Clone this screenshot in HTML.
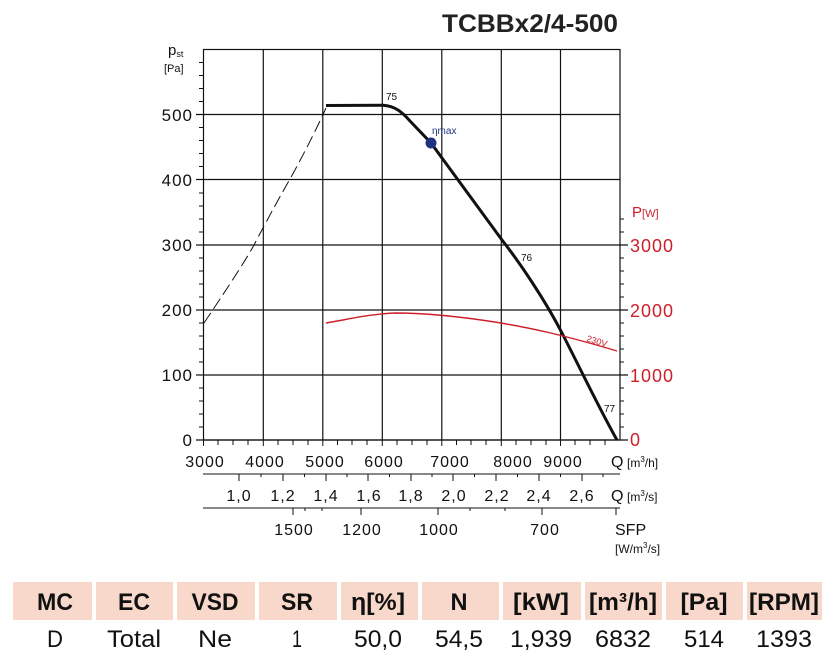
<!DOCTYPE html>
<html><head><meta charset="utf-8"><style>
html,body{margin:0;padding:0;background:#fff;}
svg{display:block;font-family:"Liberation Sans",sans-serif;}
</style></head><body>
<svg width="831" height="659" viewBox="0 0 831 659" xmlns="http://www.w3.org/2000/svg">
<text x="442" y="32" font-size="25" font-weight="bold" fill="#222" textLength="176" lengthAdjust="spacingAndGlyphs">TCBBx2/4-500</text>
<g stroke="#111" stroke-width="1.2" fill="none">
<rect x="203.5" y="49.5" width="416.5" height="390.5"/>
<line x1="263.3" y1="49" x2="263.3" y2="440"/>
<line x1="322.8" y1="49" x2="322.8" y2="440"/>
<line x1="382.3" y1="49" x2="382.3" y2="440"/>
<line x1="441.8" y1="49" x2="441.8" y2="440"/>
<line x1="501.3" y1="49" x2="501.3" y2="440"/>
<line x1="560.5" y1="49" x2="560.5" y2="440"/>
<line x1="203" y1="375" x2="628" y2="375"/>
<line x1="203" y1="310" x2="628" y2="310"/>
<line x1="203" y1="245" x2="628" y2="245"/>
<line x1="196" y1="179.5" x2="620" y2="179.5"/>
<line x1="196" y1="114.5" x2="620" y2="114.5"/>
<line x1="196" y1="440" x2="628" y2="440"/>
<line x1="196" y1="375" x2="203" y2="375"/>
<line x1="196" y1="310" x2="203" y2="310"/>
<line x1="196" y1="245" x2="203" y2="245"/>
</g>
<g stroke="#111" stroke-width="1">
<path d="M199 427H203M199 414H203M199 401H203M199 388H203M199 362H203M199 349H203M199 336H203M199 323H203M199 297H203M199 284H203M199 271H203M199 258H203M199 232H203M199 219H203M199 206H203M199 193H203M199 166.5H203M199 153.5H203M199 140.5H203M199 127.5H203M199 101.5H203M199 88.5H203M199 75.5H203M199 62.5H203"/>
<path d="M620 427H624M620 414H624M620 401H624M620 388H624M620 362H624M620 349H624M620 336H624M620 323H624M620 297H624M620 284H624M620 271H624M620 258H624M620 232H624M620 219H624"/>
<path d="M218 440V445M233 440V445M248 440V445M278 440V445M293 440V445M308 440V445M337.5 440V445M352 440V445M367 440V445M397 440V445M412 440V445M427 440V445M456.5 440V445M471 440V445M486 440V445M516 440V445M531 440V445M546 440V445M575 440V445M590 440V445M605 440V445M203.5 440V446M263.3 440V446M322.8 440V446M382.3 440V446M441.8 440V446M501.3 440V446M560.5 440V446"/>
</g>
<g font-size="17" fill="#111" text-anchor="end" letter-spacing="1">
<text x="193" y="446">0</text>
<text x="193" y="381">100</text>
<text x="193" y="316">200</text>
<text x="193" y="251">300</text>
<text x="193" y="186">400</text>
<text x="193" y="121">500</text>
</g>
<text x="168" y="55" font-size="15" fill="#111">p<tspan font-size="9" dy="2">st</tspan></text>
<text x="164" y="72" font-size="11" fill="#111">[Pa]</text>
<g font-size="18" fill="#cc1f2a" letter-spacing="1">
<text x="630" y="446">0</text>
<text x="630" y="382">1000</text>
<text x="630" y="317">2000</text>
<text x="630" y="252">3000</text>
<text x="632" y="217" font-size="15" letter-spacing="0">P<tspan font-size="11">[W]</tspan></text>
</g>
<path d="M204 323 Q245 262 254 245 Q275 205 290 179 Q310 143 326 108" stroke="#111" stroke-width="1" fill="none" stroke-dasharray="12,5"/>
<path d="M326 105.5 L383 105.3 C395 106 402 112 410 121 L431 143 L502 240 C520 263 545 300 562 333 C580 368 600 410 617 440" stroke="#111" stroke-width="3" fill="none"/>
<path d="M326 323 C350 319 370 314 395 313 C430 313 470 318 501 323 C530 328 560 334 617 351" stroke="#cc1f2a" stroke-width="1.4" fill="none"/>
<text x="586" y="341" font-size="9" fill="#cc1f2a" transform="rotate(17 586 341)">230V</text>
<circle cx="431" cy="143" r="5.5" fill="#1f3480"/>
<text x="432" y="134" font-size="10" fill="#1f3480">ηmax</text>
<text x="386" y="100" font-size="10" fill="#111">75</text>
<text x="521" y="261" font-size="10" fill="#111">76</text>
<text x="604" y="412" font-size="10" fill="#111">77</text>
<g font-size="16" fill="#111" text-anchor="middle" letter-spacing="1">
<text x="205" y="467">3000</text>
<text x="265" y="467">4000</text>
<text x="325" y="467">5000</text>
<text x="384" y="467">6000</text>
<text x="450" y="467">7000</text>
<text x="513" y="467">8000</text>
<text x="563" y="467">9000</text>
</g>
<text x="611" y="467" font-size="16" fill="#111">Q</text>
<text x="627" y="467" font-size="12" fill="#111">[m<tspan font-size="8" dy="-5">3</tspan><tspan dy="5">/h]</tspan></text>
<g stroke="#111" stroke-width="1">
<line x1="203" y1="474" x2="620" y2="474"/>
<path d="M239 474V481M283 474V481M326 474V481M368 474V481M411 474V481M453 474V481M496 474V481M539 474V481M582 474V481"/>
<path d="M261 474V477M304.5 474V477M347 474V477M389.5 474V477M432 474V477M474.5 474V477M517.5 474V477M560.5 474V477M603 474V477"/>
<line x1="203" y1="508" x2="620" y2="508"/>
<path d="M293 508V515M361 508V515M438 508V515M542 508V515M616 508V515"/>
<path d="M305 508V511M322 508V511M470 508V511M505 508V511"/>
</g>
<g font-size="16" fill="#111" text-anchor="middle" letter-spacing="1">
<text x="239" y="501">1,0</text>
<text x="283" y="501">1,2</text>
<text x="326" y="501">1,4</text>
<text x="369" y="501">1,6</text>
<text x="411" y="501">1,8</text>
<text x="454" y="501">2,0</text>
<text x="497" y="501">2,2</text>
<text x="539" y="501">2,4</text>
<text x="582" y="501">2,6</text>
<text x="294" y="535">1500</text>
<text x="362" y="535">1200</text>
<text x="439" y="535">1000</text>
<text x="545" y="535">700</text>
</g>
<text x="611" y="501" font-size="16" fill="#111">Q</text>
<text x="627" y="501" font-size="12" fill="#111">[m<tspan font-size="8" dy="-5">3</tspan><tspan dy="5">/s]</tspan></text>
<text x="615" y="535" font-size="16" fill="#111">SFP</text>
<text x="615" y="553" font-size="12" fill="#111">[W/m<tspan font-size="8" dy="-5">3</tspan><tspan dy="5">/s]</tspan></text>
<g fill="#f8d8ca">
<rect x="13" y="582" width="79" height="38"/>
<rect x="96" y="582" width="77" height="38"/>
<rect x="177" y="582" width="78" height="38"/>
<rect x="259" y="582" width="78" height="38"/>
<rect x="341" y="582" width="77" height="38"/>
<rect x="422" y="582" width="77" height="38"/>
<rect x="503" y="582" width="78" height="38"/>
<rect x="585" y="582" width="77" height="38"/>
<rect x="666" y="582" width="77" height="38"/>
<rect x="747" y="582" width="75" height="38"/>
</g>
<g font-size="24" font-weight="bold" fill="#111" text-anchor="middle">
<text x="55" y="610" textLength="36" lengthAdjust="spacingAndGlyphs">MC</text>
<text x="134" y="610" textLength="32" lengthAdjust="spacingAndGlyphs">EC</text>
<text x="215" y="610" textLength="47" lengthAdjust="spacingAndGlyphs">VSD</text>
<text x="297" y="610" textLength="32" lengthAdjust="spacingAndGlyphs">SR</text>
<text x="378" y="610" textLength="54" lengthAdjust="spacingAndGlyphs">η[%]</text>
<text x="459" y="610" textLength="17" lengthAdjust="spacingAndGlyphs">N</text>
<text x="541" y="610" textLength="56" lengthAdjust="spacingAndGlyphs">[kW]</text>
<text x="623" y="610" textLength="68" lengthAdjust="spacingAndGlyphs">[m³/h]</text>
<text x="704" y="610" textLength="47" lengthAdjust="spacingAndGlyphs">[Pa]</text>
<text x="784" y="610" textLength="70" lengthAdjust="spacingAndGlyphs">[RPM]</text>
</g>
<g font-size="24" fill="#111" text-anchor="middle">
<text x="55" y="647" textLength="16" lengthAdjust="spacingAndGlyphs">D</text>
<text x="134" y="647" textLength="54" lengthAdjust="spacingAndGlyphs">Total</text>
<text x="215" y="647" textLength="34" lengthAdjust="spacingAndGlyphs">Ne</text>
<text x="297" y="647" textLength="10" lengthAdjust="spacingAndGlyphs">1</text>
<text x="378" y="647" textLength="48" lengthAdjust="spacingAndGlyphs">50,0</text>
<text x="459" y="647" textLength="48" lengthAdjust="spacingAndGlyphs">54,5</text>
<text x="541" y="647" textLength="62" lengthAdjust="spacingAndGlyphs">1,939</text>
<text x="623" y="647" textLength="56" lengthAdjust="spacingAndGlyphs">6832</text>
<text x="704" y="647" textLength="40" lengthAdjust="spacingAndGlyphs">514</text>
<text x="784" y="647" textLength="56" lengthAdjust="spacingAndGlyphs">1393</text>
</g>
</svg>
</body></html>
